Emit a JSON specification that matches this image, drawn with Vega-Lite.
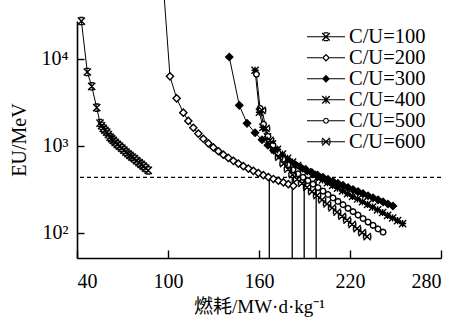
{
  "$schema": "https://vega.github.io/schema/vega-lite/v6.json",
  "width": 364,
  "height": 237,
  "autosize": {"type": "none"},
  "padding": {"left": 77, "top": 21, "right": 18, "bottom": 62},
  "background": "white",
  "config": {
    "font": "Liberation Serif",
    "view": {"stroke": null},
    "axis": {
      "grid": false,
      "domainColor": "black",
      "domainWidth": 1.6,
      "tickColor": "black",
      "tickWidth": 1.4,
      "labelColor": "black",
      "titleColor": "black",
      "labelFont": "Liberation Serif",
      "titleFont": "Liberation Serif, Noto Sans CJK SC",
      "labelFontSize": 20,
      "titleFontSize": 19,
      "titleFontWeight": "normal"
    }
  },
  "datasets": {
    "curves": [
      {"series": "C/U=100", "burnup": 42.9, "eu": 27000},
      {"series": "C/U=100", "burnup": 46.8, "eu": 7010},
      {"series": "C/U=100", "burnup": 49.7, "eu": 4800},
      {"series": "C/U=100", "burnup": 53.0, "eu": 2730},
      {"series": "C/U=100", "burnup": 55.2, "eu": 1815},
      {"series": "C/U=100", "burnup": 56.2, "eu": 1690},
      {"series": "C/U=100", "burnup": 57.3, "eu": 1578},
      {"series": "C/U=100", "burnup": 58.4, "eu": 1500},
      {"series": "C/U=100", "burnup": 59.6, "eu": 1429},
      {"series": "C/U=100", "burnup": 60.7, "eu": 1340},
      {"series": "C/U=100", "burnup": 61.8, "eu": 1253},
      {"series": "C/U=100", "burnup": 62.8, "eu": 1200},
      {"series": "C/U=100", "burnup": 63.9, "eu": 1148},
      {"series": "C/U=100", "burnup": 65.2, "eu": 1090},
      {"series": "C/U=100", "burnup": 66.6, "eu": 1033},
      {"series": "C/U=100", "burnup": 68.0, "eu": 985},
      {"series": "C/U=100", "burnup": 69.5, "eu": 936},
      {"series": "C/U=100", "burnup": 70.9, "eu": 888},
      {"series": "C/U=100", "burnup": 72.3, "eu": 842},
      {"series": "C/U=100", "burnup": 73.6, "eu": 805},
      {"series": "C/U=100", "burnup": 74.9, "eu": 771},
      {"series": "C/U=100", "burnup": 76.3, "eu": 738},
      {"series": "C/U=100", "burnup": 77.8, "eu": 706},
      {"series": "C/U=100", "burnup": 79.3, "eu": 670},
      {"series": "C/U=100", "burnup": 80.9, "eu": 636},
      {"series": "C/U=100", "burnup": 82.3, "eu": 608},
      {"series": "C/U=100", "burnup": 83.7, "eu": 581},
      {"series": "C/U=100", "burnup": 85.3, "eu": 550},
      {"series": "C/U=100", "burnup": 87.0, "eu": 519},
      {"series": "C/U=200", "burnup": 97.2, "eu": 60000},
      {"series": "C/U=200", "burnup": 101.3, "eu": 6254},
      {"series": "C/U=200", "burnup": 105.7, "eu": 3489},
      {"series": "C/U=200", "burnup": 110.1, "eu": 2389},
      {"series": "C/U=200", "burnup": 113.4, "eu": 1922},
      {"series": "C/U=200", "burnup": 116.7, "eu": 1603},
      {"series": "C/U=200", "burnup": 120.0, "eu": 1372},
      {"series": "C/U=200", "burnup": 123.3, "eu": 1197},
      {"series": "C/U=200", "burnup": 126.6, "eu": 1061},
      {"series": "C/U=200", "burnup": 129.9, "eu": 951},
      {"series": "C/U=200", "burnup": 133.2, "eu": 861},
      {"series": "C/U=200", "burnup": 136.5, "eu": 786},
      {"series": "C/U=200", "burnup": 139.8, "eu": 722},
      {"series": "C/U=200", "burnup": 143.1, "eu": 668},
      {"series": "C/U=200", "burnup": 146.4, "eu": 621},
      {"series": "C/U=200", "burnup": 149.7, "eu": 580},
      {"series": "C/U=200", "burnup": 153.0, "eu": 544},
      {"series": "C/U=200", "burnup": 156.3, "eu": 512},
      {"series": "C/U=200", "burnup": 159.6, "eu": 483},
      {"series": "C/U=200", "burnup": 162.9, "eu": 457},
      {"series": "C/U=200", "burnup": 166.2, "eu": 434},
      {"series": "C/U=200", "burnup": 169.5, "eu": 413},
      {"series": "C/U=200", "burnup": 172.8, "eu": 394},
      {"series": "C/U=200", "burnup": 176.1, "eu": 377},
      {"series": "C/U=200", "burnup": 179.4, "eu": 360},
      {"series": "C/U=200", "burnup": 182.7, "eu": 345},
      {"series": "C/U=300", "burnup": 140.4, "eu": 10430},
      {"series": "C/U=300", "burnup": 147.0, "eu": 2904},
      {"series": "C/U=300", "burnup": 152.1, "eu": 1803},
      {"series": "C/U=300", "burnup": 157.4, "eu": 1403},
      {"series": "C/U=300", "burnup": 162.0, "eu": 1166},
      {"series": "C/U=300", "burnup": 165.9, "eu": 1008},
      {"series": "C/U=300", "burnup": 169.6, "eu": 883},
      {"series": "C/U=300", "burnup": 173.2, "eu": 784},
      {"series": "C/U=300", "burnup": 176.8, "eu": 710},
      {"series": "C/U=300", "burnup": 180.4, "eu": 652},
      {"series": "C/U=300", "burnup": 184.1, "eu": 601},
      {"series": "C/U=300", "burnup": 187.7, "eu": 560},
      {"series": "C/U=300", "burnup": 191.3, "eu": 522},
      {"series": "C/U=300", "burnup": 194.9, "eu": 489},
      {"series": "C/U=300", "burnup": 198.6, "eu": 459},
      {"series": "C/U=300", "burnup": 202.2, "eu": 432},
      {"series": "C/U=300", "burnup": 205.5, "eu": 409},
      {"series": "C/U=300", "burnup": 208.8, "eu": 387},
      {"series": "C/U=300", "burnup": 212.1, "eu": 367},
      {"series": "C/U=300", "burnup": 215.4, "eu": 348},
      {"series": "C/U=300", "burnup": 218.7, "eu": 329},
      {"series": "C/U=300", "burnup": 222.0, "eu": 312},
      {"series": "C/U=300", "burnup": 225.3, "eu": 296},
      {"series": "C/U=300", "burnup": 228.6, "eu": 280},
      {"series": "C/U=300", "burnup": 231.9, "eu": 265},
      {"series": "C/U=300", "burnup": 235.2, "eu": 251},
      {"series": "C/U=300", "burnup": 238.5, "eu": 238},
      {"series": "C/U=300", "burnup": 241.8, "eu": 225},
      {"series": "C/U=300", "burnup": 245.0, "eu": 213},
      {"series": "C/U=300", "burnup": 248.3, "eu": 202},
      {"series": "C/U=400", "burnup": 157.4, "eu": 7340},
      {"series": "C/U=400", "burnup": 160.3, "eu": 2415},
      {"series": "C/U=400", "burnup": 162.6, "eu": 1622},
      {"series": "C/U=400", "burnup": 165.6, "eu": 1262},
      {"series": "C/U=400", "burnup": 168.9, "eu": 1049},
      {"series": "C/U=400", "burnup": 172.2, "eu": 907},
      {"series": "C/U=400", "burnup": 175.5, "eu": 798},
      {"series": "C/U=400", "burnup": 178.8, "eu": 714},
      {"series": "C/U=400", "burnup": 182.1, "eu": 646},
      {"series": "C/U=400", "burnup": 185.4, "eu": 589},
      {"series": "C/U=400", "burnup": 188.7, "eu": 541},
      {"series": "C/U=400", "burnup": 192.0, "eu": 500},
      {"series": "C/U=400", "burnup": 195.3, "eu": 464},
      {"series": "C/U=400", "burnup": 198.6, "eu": 432},
      {"series": "C/U=400", "burnup": 201.9, "eu": 402},
      {"series": "C/U=400", "burnup": 205.2, "eu": 374},
      {"series": "C/U=400", "burnup": 208.5, "eu": 349},
      {"series": "C/U=400", "burnup": 211.8, "eu": 324},
      {"series": "C/U=400", "burnup": 215.1, "eu": 302},
      {"series": "C/U=400", "burnup": 218.4, "eu": 281},
      {"series": "C/U=400", "burnup": 221.7, "eu": 261},
      {"series": "C/U=400", "burnup": 225.0, "eu": 243},
      {"series": "C/U=400", "burnup": 228.3, "eu": 226},
      {"series": "C/U=400", "burnup": 231.6, "eu": 211},
      {"series": "C/U=400", "burnup": 234.9, "eu": 196},
      {"series": "C/U=400", "burnup": 238.2, "eu": 182},
      {"series": "C/U=400", "burnup": 241.5, "eu": 170},
      {"series": "C/U=400", "burnup": 244.8, "eu": 158},
      {"series": "C/U=400", "burnup": 248.1, "eu": 147},
      {"series": "C/U=400", "burnup": 251.4, "eu": 137},
      {"series": "C/U=400", "burnup": 254.7, "eu": 127},
      {"series": "C/U=500", "burnup": 158.3, "eu": 6600},
      {"series": "C/U=500", "burnup": 160.7, "eu": 2684},
      {"series": "C/U=500", "burnup": 163.0, "eu": 1758},
      {"series": "C/U=500", "burnup": 165.9, "eu": 1279},
      {"series": "C/U=500", "burnup": 169.2, "eu": 1008},
      {"series": "C/U=500", "burnup": 172.5, "eu": 826},
      {"series": "C/U=500", "burnup": 175.8, "eu": 696},
      {"series": "C/U=500", "burnup": 179.1, "eu": 601},
      {"series": "C/U=500", "burnup": 182.4, "eu": 527},
      {"series": "C/U=500", "burnup": 185.7, "eu": 474},
      {"series": "C/U=500", "burnup": 189.0, "eu": 432},
      {"series": "C/U=500", "burnup": 192.3, "eu": 395},
      {"series": "C/U=500", "burnup": 195.6, "eu": 360},
      {"series": "C/U=500", "burnup": 198.9, "eu": 329},
      {"series": "C/U=500", "burnup": 202.2, "eu": 300},
      {"series": "C/U=500", "burnup": 205.5, "eu": 274},
      {"series": "C/U=500", "burnup": 208.8, "eu": 250},
      {"series": "C/U=500", "burnup": 212.1, "eu": 228},
      {"series": "C/U=500", "burnup": 215.4, "eu": 209},
      {"series": "C/U=500", "burnup": 218.7, "eu": 190},
      {"series": "C/U=500", "burnup": 222.0, "eu": 174},
      {"series": "C/U=500", "burnup": 225.3, "eu": 159},
      {"series": "C/U=500", "burnup": 228.6, "eu": 145},
      {"series": "C/U=500", "burnup": 231.9, "eu": 132},
      {"series": "C/U=500", "burnup": 235.2, "eu": 121},
      {"series": "C/U=500", "burnup": 238.5, "eu": 110},
      {"series": "C/U=500", "burnup": 241.8, "eu": 101},
      {"series": "C/U=600", "burnup": 162.0, "eu": 2545},
      {"series": "C/U=600", "burnup": 164.6, "eu": 1580},
      {"series": "C/U=600", "burnup": 167.3, "eu": 1151},
      {"series": "C/U=600", "burnup": 170.2, "eu": 895},
      {"series": "C/U=600", "burnup": 173.2, "eu": 734},
      {"series": "C/U=600", "burnup": 176.2, "eu": 618},
      {"series": "C/U=600", "burnup": 179.1, "eu": 534},
      {"series": "C/U=600", "burnup": 182.1, "eu": 462},
      {"series": "C/U=600", "burnup": 185.1, "eu": 410},
      {"series": "C/U=600", "burnup": 188.4, "eu": 368},
      {"series": "C/U=600", "burnup": 191.7, "eu": 330},
      {"series": "C/U=600", "burnup": 195.0, "eu": 296},
      {"series": "C/U=600", "burnup": 198.3, "eu": 266},
      {"series": "C/U=600", "burnup": 201.6, "eu": 238},
      {"series": "C/U=600", "burnup": 204.9, "eu": 214},
      {"series": "C/U=600", "burnup": 208.2, "eu": 192},
      {"series": "C/U=600", "burnup": 211.5, "eu": 172},
      {"series": "C/U=600", "burnup": 214.8, "eu": 154},
      {"series": "C/U=600", "burnup": 218.1, "eu": 139},
      {"series": "C/U=600", "burnup": 221.4, "eu": 124},
      {"series": "C/U=600", "burnup": 224.7, "eu": 111},
      {"series": "C/U=600", "burnup": 228.0, "eu": 100},
      {"series": "C/U=600", "burnup": 231.3, "eu": 90}
    ],
    "crossings": [
      {"burnup": 166.8, "eu": 430},
      {"burnup": 181.9, "eu": 430},
      {"burnup": 189.8, "eu": 430},
      {"burnup": 197.7, "eu": 430}
    ],
    "threshold": [{"eu": 430}]
  },
  "layer": [
    {
      "data": {"name": "threshold"},
      "mark": {"type": "rule", "color": "black", "strokeWidth": 1.2, "strokeDash": [4, 3]},
      "encoding": {
        "y": {
          "field": "eu", "type": "quantitative",
          "scale": {"type": "log", "domain": [51, 27040], "nice": false, "zero": false},
          "axis": {
            "values": [100, 1000, 10000],
            "labelExpr": "datum.value == 100 ? '10²' : datum.value == 1000 ? '10³' : '10⁴'",
            "title": "EU/MeV",
            "titleFontSize": 20,
            "tickSize": -7,
            "labelPadding": 16,
            "titlePadding": 12
          }
        }
      }
    },
    {
      "data": {"name": "crossings"},
      "mark": {"type": "rule", "color": "black", "strokeWidth": 1.3},
      "encoding": {
        "x": {"field": "burnup", "type": "quantitative"},
        "y": {"field": "eu", "type": "quantitative"},
        "y2": {"datum": 51}
      }
    },
    {
      "data": {"name": "curves"},
      "mark": {"type": "line", "color": "black", "strokeWidth": 1},
      "encoding": {
        "x": {
          "field": "burnup", "type": "quantitative",
          "scale": {"domain": [40, 280], "nice": false, "zero": false},
          "axis": {
            "values": [40, 100, 160, 220, 280],
            "title": "燃耗/MW·d·kg⁻¹",
            "tickSize": -8,
            "labelPadding": 21,
            "titlePadding": 6
          }
        },
        "y": {"field": "eu", "type": "quantitative"},
        "detail": {"field": "series"}
      }
    },
    {
      "data": {"name": "curves"},
      "mark": {"type": "point", "stroke": "black", "strokeWidth": 1.4, "size": 52, "opacity": 1},
      "encoding": {
        "x": {"field": "burnup", "type": "quantitative"},
        "y": {"field": "eu", "type": "quantitative"},
        "shape": {
          "field": "series", "type": "nominal",
          "scale": {
            "domain": ["C/U=100", "C/U=200", "C/U=300", "C/U=400", "C/U=500", "C/U=600"],
            "range": [
              "M-1,-1L1,1M1,-1L-1,1M-0.6,-1H0.6M-0.6,1H0.6",
              "M0,-1L1,0L0,1L-1,0Z",
              "M0,-1L1,0L0,1L-1,0Z",
              "M-1,-1L1,1M1,-1L-1,1M0,-1V1M-1,0H1",
              "M0.8,0L0.566,0.566L0,0.8L-0.566,0.566L-0.8,0L-0.566,-0.566L0,-0.8L0.566,-0.566Z",
              "M-1,-1L1,1M1,-1L-1,1M-1,-0.6V0.6M1,-0.6V0.6"
            ]
          },
          "legend": null
        },
        "fill": {
          "field": "series", "type": "nominal",
          "scale": {
            "domain": ["C/U=100", "C/U=200", "C/U=300", "C/U=400", "C/U=500", "C/U=600"],
            "range": ["black", "white", "black", "black", "white", "black"]
          },
          "legend": null
        }
      }
    },
    {
      "data": {"name": "curves"},
      "mark": {"type": "point", "filled": true, "color": "black", "size": 0, "opacity": 1},
      "encoding": {
        "x": {"field": "burnup", "type": "quantitative"},
        "y": {"field": "eu", "type": "quantitative"},
        "shape": {
          "field": "series", "type": "nominal",
          "scale": {
            "domain": ["C/U=100", "C/U=200", "C/U=300", "C/U=400", "C/U=500", "C/U=600"],
            "range": [
              "M-1,-0.03H1V0.03H-1Z M-0.175,-0.225L0.225,0.175L0.175,0.225L-0.225,-0.175Z M0.225,-0.175L-0.175,0.225L-0.225,0.175L0.175,-0.225Z M-0.12,-0.235H0.12V-0.175H-0.12Z M-0.12,0.175H0.12V0.235H-0.12Z",
              "M-1,-0.03H-0.2V0.03H-1Z M0.2,-0.03H1V0.03H0.2Z M0,-0.21L0.21,0L0,0.21L-0.21,0Z M0,-0.12L-0.12,0L0,0.12L0.12,0Z",
              "M-1,-0.03H1V0.03H-1Z M0,-0.21L0.21,0L0,0.21L-0.21,0Z",
              "M-1,-0.03H1V0.03H-1Z M-0.175,-0.225L0.225,0.175L0.175,0.225L-0.225,-0.175Z M0.225,-0.175L-0.175,0.225L-0.225,0.175L0.175,-0.225Z M-0.03,-0.21H0.03V0.21H-0.03Z",
              "M-1,-0.03H-0.15V0.03H-1Z M0.15,-0.03H1V0.03H0.15Z M0.16,0L0.113,0.113L0,0.16L-0.113,0.113L-0.16,0L-0.113,-0.113L0,-0.16L0.113,-0.113Z M0.1,0L0.071,-0.071L0,-0.1L-0.071,-0.071L-0.1,0L-0.071,0.071L0,0.1L0.071,0.071Z",
              "M-1,-0.03H1V0.03H-1Z M-0.175,-0.225L0.225,0.175L0.175,0.225L-0.225,-0.175Z M0.225,-0.175L-0.175,0.225L-0.225,0.175L0.175,-0.225Z M-0.235,-0.12H-0.175V0.12H-0.235Z M0.175,-0.12H0.235V0.12H0.175Z"
            ]
          },
          "legend": {
            "orient": "none",
            "legendX": 230,
            "legendY": 6,
            "title": null,
            "padding": 0,
            "symbolSize": 1444,
            "symbolOpacity": 1,
            "symbolFillColor": "black",
            "symbolStrokeWidth": 0,
            "labelFont": "Liberation Serif",
            "labelFontSize": 20.5,
            "labelColor": "black",
            "labelOffset": 4,
            "rowPadding": -1.9,
            "clipHeight": 19.5
          }
        }
      }
    }
  ],
  "resolve": {"scale": {"shape": "independent"}}
}
